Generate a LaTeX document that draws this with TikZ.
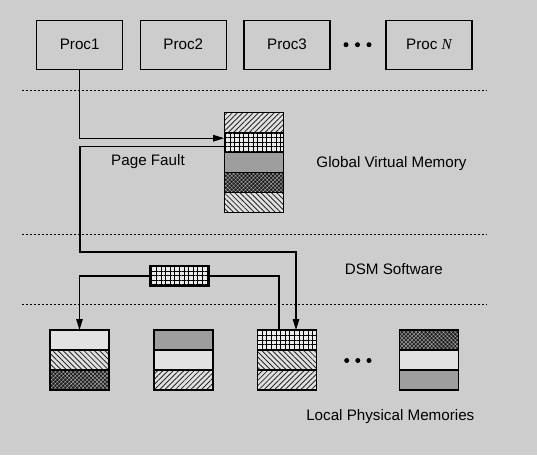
\documentclass[tikz,border=0pt]{standalone}
\usepackage{fontspec}
\setmainfont{Liberation Sans}
\newfontfamily\tnr{Liberation Serif}
\usetikzlibrary{arrows.meta,patterns.meta}
\definecolor{bgc}{RGB}{205,205,205}
\definecolor{lightc}{RGB}{226,226,226}
\definecolor{midc}{RGB}{158,158,158}
\definecolor{darkc}{RGB}{30,30,30}
\definecolor{hfill}{RGB}{225,225,225}
\tikzset{
  proc/.style={draw, line width=1.1pt, minimum width=86pt, minimum height=49pt, inner sep=0pt, font=\fontsize{15.2}{18}\selectfont},
  cell/.style={draw, line width=1.1pt, minimum width=59pt, minimum height=20pt, inner sep=0pt, outer sep=0pt},
  hne/.style={cell, preaction={fill=hfill}, pattern={Lines[angle=45,distance=3.7pt,line width=0.85pt]}, pattern color=black!85},
  hnw/.style={cell, preaction={fill=hfill}, pattern={Lines[angle=-45,distance=3.7pt,line width=0.85pt]}, pattern color=black!85},
  grd/.style={cell, preaction={fill=white!92!black}, pattern={Hatch[angle=0,distance=4.6pt,line width=0.75pt]}, pattern color=black},
  gry/.style={cell, fill=midc},
  drk/.style={cell, preaction={fill=darkc}, pattern={Hatch[angle=45,distance=2.8pt,line width=0.4pt]}, pattern color=gray!65},
  emp/.style={cell, fill=lightc},
  sep/.style={line width=0.9pt, dash pattern=on 2pt off 2pt},
  conn/.style={line width=1.1pt},
  arr/.style={line width=1.1pt, -{Triangle[length=11pt,width=6.5pt]}},
  dot/.style={circle, fill=black, inner sep=0pt, minimum size=5pt},
  lbl/.style={font=\fontsize{15.2}{18}\selectfont, inner sep=0pt}
}
\begin{document}
\begin{tikzpicture}[x=1pt,y=-1pt]
\useasboundingbox (0,0) rectangle (537,455);
\fill[bgc] (0,0) rectangle (537,455);

% processors
\node[proc] (p1) at (79.7,44.7) {Proc1};
\node[proc] (p2) at (183.3,44.7) {Proc2};
\node[proc] (p3) at (287,44.7) {Proc3};
\node[dot] (pd1) at (346,44.7) {};
\node[dot] (pd2) at (357.5,44.7) {};
\node[dot] (pd3) at (369,44.7) {};
\node[proc] (pn) at (429,44.7) {Proc {\tnr\itshape N}};

% separators
\draw[sep] (22,90) -- (487,90);
\draw[sep] (22,234) -- (487,234);
\draw[sep] (22,304) -- (487,304);

% global virtual memory
\node[hne] (gv1) at (253.7,122.7) {};
\node[grd] (gv2) at (253.7,142.7) {};
\node[gry] (gv3) at (253.7,162.7) {};
\node[drk] (gv4) at (253.7,182.7) {};
\node[hnw] (gv5) at (253.7,202.7) {};

% page in transit
\node[grd] (pg) at (179.5,276) {};

% local memories
\node[emp] (l1a) at (79.5,340) {};
\node[hnw] (l1b) at (79.5,360) {};
\node[drk] (l1c) at (79.5,380) {};

\node[gry] (l2a) at (183.5,340) {};
\node[emp] (l2b) at (183.5,360) {};
\node[hne] (l2c) at (183.5,380) {};

\node[grd] (l3a) at (287,340) {};
\node[hnw] (l3b) at (287,360) {};
\node[hne] (l3c) at (287,380) {};

\node[dot] (ld1) at (346.7,360.5) {};
\node[dot] (ld2) at (357.8,360.5) {};
\node[dot] (ld3) at (369,360.5) {};

\node[drk] (l4a) at (429,340) {};
\node[emp] (l4b) at (429,360) {};
\node[gry] (l4c) at (429,380) {};

% labels
\node[lbl] (pf) at (148,162) {Page Fault};
\node[lbl] (gvm) at (391.5,163.5) {Global Virtual Memory};
\node[lbl] (dsm) at (393.8,269) {DSM Software};
\node[lbl] (lpm) at (390.3,416.5) {Local Physical Memories};

% connectors
\coordinate (c1) at (80,252);
\coordinate (c2) at (296,252);
\draw[arr] (p1.south) |- ([yshift=4.5pt]gv2.west);
\draw[arr] ([yshift=-4pt]gv2.west) -| (c1) -- (c2) -- (c2 |- l3a.north);
\draw[arr] (pg.west) -| (l1a.north);
\draw[conn] (pg.east) -| ([xshift=-8pt]l3a.north);
\end{tikzpicture}
\end{document}
